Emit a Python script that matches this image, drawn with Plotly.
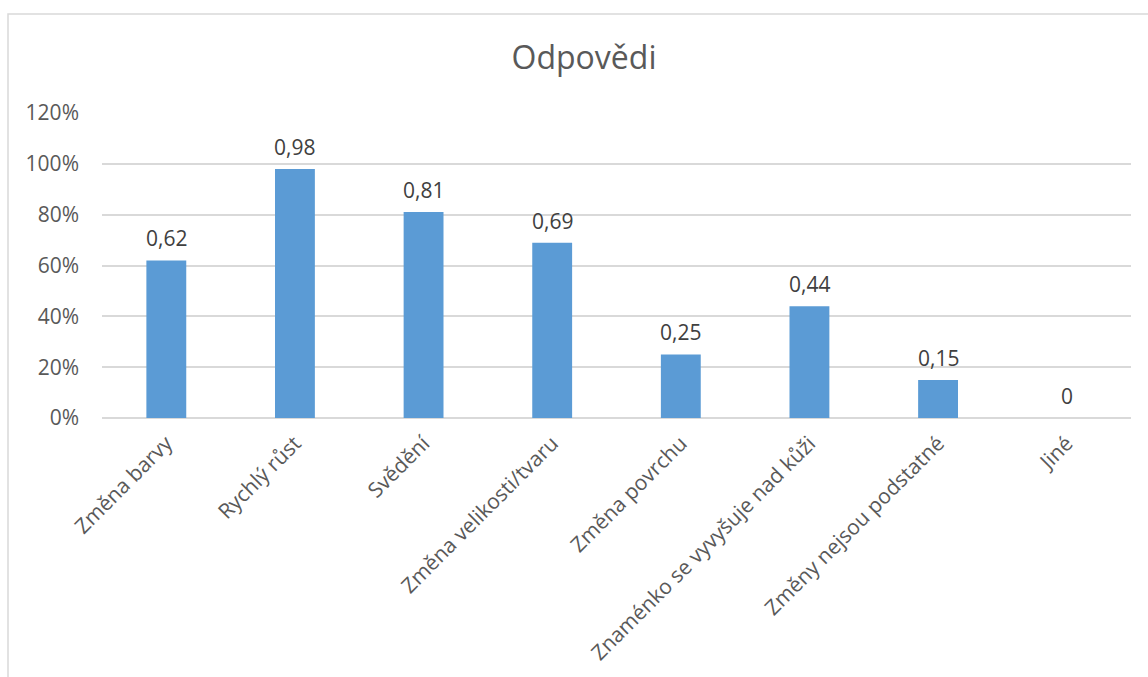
import plotly.graph_objects as go

# Survey answers (share of respondents)
categories = [
    "Změna barvy",
    "Rychlý růst",
    "Svědění",
    "Změna velikosti/tvaru",
    "Změna povrchu",
    "Znaménko se vyvyšuje nad kůži",
    "Změny nejsou podstatné",
    "Jiné",
]
values = [0.62, 0.98, 0.81, 0.69, 0.25, 0.44, 0.15, 0]
y_ticks = [0, 0.2, 0.4, 0.6, 0.8, 1.0, 1.2]

labels = [("%g" % v).replace(".", ",") for v in values]

W, H = 1148, 677
ML, MR, MT, MB = 102, 17, 113, 259
plot_w = W - ML - MR
plot_h = H - MT - MB

FONT = "Open Sans"
GREY_TXT = "#595959"
GRID = "#d9d9d9"

fig = go.Figure(
    go.Bar(
        x=categories,
        y=values,
        marker=dict(color="#5b9bd5", line=dict(width=0)),
        hoverinfo="x+y",
    )
)

# value labels above each bar
for cat, v, lab in zip(categories, values, labels):
    fig.add_annotation(
        x=cat, y=v, text=lab, showarrow=False,
        yanchor="bottom", yshift=6,
        font=dict(family=FONT, size=21, color="#404040"),
    )

# outer chart frame (left and top edges visible)
fx0 = (8 - ML) / plot_w
fy1 = (H - MB - 14) / plot_h
fig.add_shape(
    type="rect", xref="paper", yref="paper",
    x0=fx0, x1=1.2, y0=-1.0, y1=fy1,
    line=dict(color=GRID, width=1.5), fillcolor="rgba(0,0,0,0)", layer="below",
)

fig.update_layout(
    width=W, height=H,
    margin=dict(l=ML, r=MR, t=MT, b=MB, autoexpand=False),
    paper_bgcolor="white", plot_bgcolor="white",
    separators=", ",
    bargap=0.69,
    showlegend=False,
    title=dict(
        text="Odpovědi",
        x=584 / W, xanchor="center",
        y=1 - 58 / H, yanchor="middle",
        font=dict(family=FONT, size=32, color=GREY_TXT),
    ),
    xaxis=dict(
        tickangle=-45,
        tickfont=dict(family=FONT, size=21, color=GREY_TXT),
        showgrid=False, showline=False, ticks="",
        ticklabelstandoff=8,
    ),
    yaxis=dict(
        range=[0, 1.2],
        tickvals=y_ticks,
        tickformat=".0%",
        tickfont=dict(family=FONT, size=21, color=GREY_TXT),
        showgrid=True, gridcolor=GRID, gridwidth=1.5,
        zeroline=True, zerolinecolor=GRID, zerolinewidth=1.5,
        showline=False, ticks="", ticklabelstandoff=22,
    ),
)

fig.write_html("out.html")
